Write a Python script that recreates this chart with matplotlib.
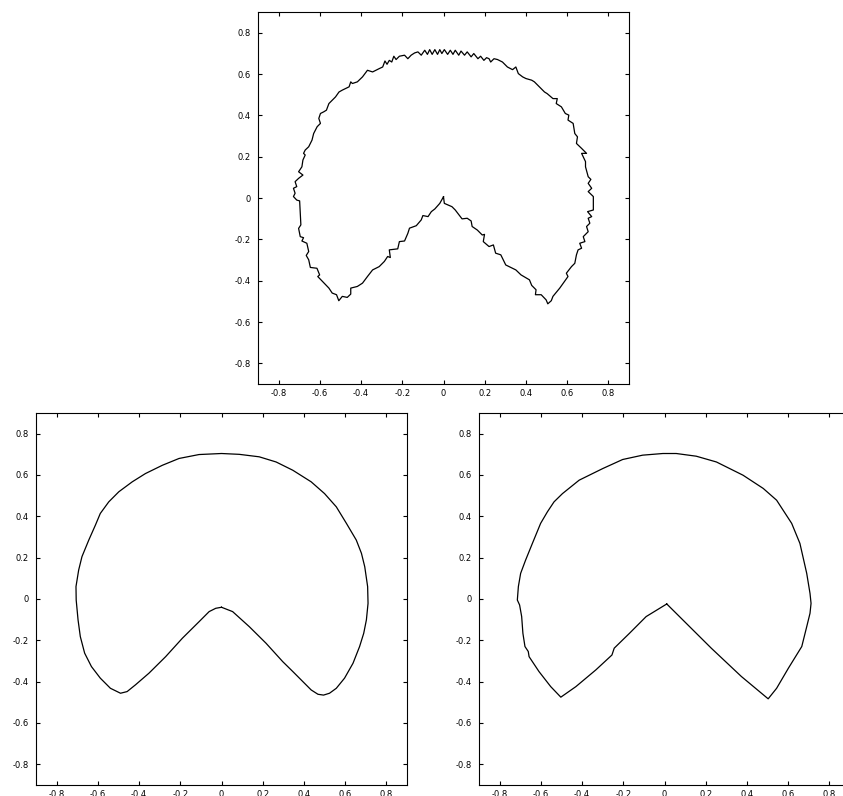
import matplotlib
matplotlib.use("Agg")
import matplotlib.pyplot as plt

plt.rcParams['font.family'] = ['DejaVu Sans']

ticks = [-0.8, -0.6, -0.4, -0.2, 0, 0.2, 0.4, 0.6, 0.8]
tick_labels = ['-0.8', '-0.6', '-0.4', '-0.2', '0', '0.2', '0.4', '0.6', '0.8']

# top panel: noisy boundary (apex -> right arm -> right side -> top -> left side -> left arm)
noisy_x = [
    0.000, 0.004, 0.041, 0.057, 0.090, 0.115, 0.134, 0.139, 0.164, 0.188, 0.199, 0.193,
    0.221, 0.242, 0.253, 0.278, 0.302, 0.351, 0.376, 0.417, 0.428, 0.449, 0.446, 0.474,
    0.498, 0.506,
    0.523, 0.531, 0.564, 0.604, 0.596, 0.621, 0.637, 0.645, 0.653, 0.670, 0.661, 0.686,
    0.678, 0.702, 0.694, 0.710, 0.702, 0.719, 0.699, 0.727, 0.727,
    0.702, 0.719, 0.702, 0.715, 0.702, 0.689, 0.689, 0.670, 0.694, 0.670, 0.645, 0.650,
    0.637, 0.629, 0.604, 0.608, 0.591, 0.572, 0.547, 0.552, 0.531, 0.503, 0.490, 0.449,
    0.441, 0.428, 0.400, 0.384, 0.363, 0.351, 0.335, 0.310, 0.286, 0.262, 0.245, 0.229,
    0.221, 0.209, 0.196, 0.180, 0.167, 0.147, 0.134, 0.115, 0.102, 0.085, 0.074, 0.057,
    0.046, 0.033, 0.020, 0.004, -0.008,
    -0.018, -0.029, -0.042, -0.055, -0.067, -0.078, -0.091, -0.108, -0.124, -0.140,
    -0.157, -0.173, -0.189, -0.214, -0.230, -0.241, -0.251, -0.263, -0.274, -0.284,
    -0.295, -0.312, -0.344, -0.369, -0.393, -0.418, -0.442, -0.450, -0.458, -0.475,
    -0.491, -0.507, -0.524, -0.540, -0.556, -0.568, -0.581, -0.597, -0.605, -0.597,
    -0.613, -0.630, -0.638, -0.654, -0.671, -0.679, -0.671, -0.682, -0.687, -0.703,
    -0.682, -0.703, -0.720, -0.712, -0.728, -0.720, -0.728,
    -0.712, -0.698, -0.692, -0.703, -0.695, -0.679, -0.687, -0.663, -0.654, -0.666,
    -0.654, -0.646, -0.614, -0.601, -0.610, -0.584, -0.556, -0.540, -0.519, -0.508,
    -0.491, -0.467, -0.450, -0.450, -0.418, -0.393, -0.369, -0.344, -0.312, -0.287,
    -0.271, -0.258, -0.263, -0.222, -0.214, -0.189, -0.173, -0.165, -0.132, -0.108,
    -0.100, -0.075, -0.059, -0.042, -0.018, 0.000,
]
noisy_y = [
    0.006, -0.026, -0.042, -0.058, -0.101, -0.098, -0.111, -0.138, -0.155, -0.179, -0.176, -0.211,
    -0.235, -0.227, -0.267, -0.275, -0.324, -0.348, -0.372, -0.396, -0.423, -0.444, -0.468, -0.468,
    -0.493, -0.512,
    -0.497, -0.476, -0.436, -0.380, -0.364, -0.332, -0.316, -0.275, -0.251, -0.243, -0.219, -0.211,
    -0.187, -0.163, -0.138, -0.122, -0.098, -0.090, -0.066, -0.058, 0.007,
    0.031, 0.047, 0.071, 0.090, 0.103, 0.151, 0.176, 0.216, 0.216, 0.240, 0.264, 0.296,
    0.312, 0.361, 0.377, 0.401, 0.409, 0.441, 0.457, 0.481, 0.481, 0.505, 0.513, 0.554,
    0.562, 0.570, 0.578, 0.586, 0.602, 0.634, 0.621, 0.634, 0.658, 0.670, 0.674, 0.658,
    0.674, 0.679, 0.666, 0.686, 0.674, 0.699, 0.683, 0.707, 0.691, 0.711, 0.691, 0.715,
    0.695, 0.715, 0.695, 0.718, 0.699,
    0.718, 0.695, 0.718, 0.695, 0.718, 0.695, 0.715, 0.691, 0.707, 0.702,
    0.691, 0.674, 0.691, 0.686, 0.670, 0.686, 0.658, 0.666, 0.647, 0.663,
    0.634, 0.626, 0.610, 0.618, 0.586, 0.562, 0.554, 0.562, 0.538, 0.530,
    0.522, 0.513, 0.489, 0.473, 0.457, 0.425, 0.417, 0.409, 0.385, 0.361,
    0.345, 0.312, 0.280, 0.248, 0.232, 0.216, 0.208, 0.184, 0.151, 0.127,
    0.111, 0.095, 0.079, 0.055, 0.047, 0.023, 0.007,
    -0.010, -0.014, -0.130, -0.147, -0.187, -0.192, -0.208, -0.219, -0.259, -0.278,
    -0.299, -0.336, -0.340, -0.372, -0.380, -0.407, -0.436, -0.460, -0.468, -0.497,
    -0.476, -0.481, -0.465, -0.436, -0.428, -0.412, -0.380, -0.348, -0.332, -0.307,
    -0.283, -0.288, -0.251, -0.246, -0.211, -0.208, -0.171, -0.146, -0.134, -0.106,
    -0.085, -0.090, -0.066, -0.053, -0.026, 0.006,
]

# bottom left: smoothed boundary
smooth_x = [
    0.000, 0.054, 0.135, 0.216, 0.297, 0.346, 0.394, 0.435, 0.468, 0.495, 0.524, 0.557,
    0.597, 0.638, 0.670, 0.690, 0.703, 0.711, 0.709, 0.695, 0.679, 0.654, 0.606, 0.557,
    0.500, 0.435, 0.346, 0.265, 0.183, 0.086, 0.000, -0.109, -0.206, -0.287, -0.369,
    -0.433, -0.498, -0.547, -0.588, -0.612, -0.644, -0.677, -0.693, -0.706, -0.705,
    -0.696, -0.685, -0.664, -0.631, -0.588, -0.539, -0.490, -0.458, -0.417, -0.352,
    -0.271, -0.190, -0.109, -0.060, -0.028, 0.000,
]
smooth_y = [
    -0.040, -0.061, -0.134, -0.214, -0.303, -0.351, -0.399, -0.440, -0.461, -0.465, -0.456,
    -0.432, -0.383, -0.311, -0.230, -0.166, -0.101, -0.021, 0.060, 0.156, 0.221, 0.285,
    0.366, 0.446, 0.510, 0.567, 0.623, 0.663, 0.688, 0.700, 0.704, 0.699, 0.680, 0.647,
    0.607, 0.567, 0.519, 0.470, 0.414, 0.357, 0.285, 0.205, 0.140, 0.060, -0.005, -0.101,
    -0.182, -0.262, -0.327, -0.383, -0.432, -0.456, -0.448, -0.415, -0.359, -0.279,
    -0.190, -0.110, -0.061, -0.045, -0.040,
]

# bottom right: sharp-cornered boundary
sharp_x = [
    0.011, 0.227, 0.373, 0.503, 0.544, 0.601, 0.666, 0.690, 0.706, 0.711, 0.706, 0.690,
    0.657, 0.617, 0.544, 0.479, 0.381, 0.252, 0.154, 0.057, -0.008, -0.106, -0.203,
    -0.300, -0.414, -0.495, -0.536, -0.568, -0.601, -0.641, -0.674, -0.698, -0.709,
    -0.714, -0.703, -0.693, -0.687, -0.677, -0.661, -0.657, -0.609, -0.552, -0.503,
    -0.430, -0.333, -0.255, -0.244, -0.170, -0.089, 0.011,
]
sharp_y = [
    -0.024, -0.238, -0.375, -0.483, -0.432, -0.335, -0.230, -0.134, -0.069, -0.021, 0.027,
    0.124, 0.269, 0.366, 0.478, 0.535, 0.599, 0.663, 0.691, 0.704, 0.704, 0.696, 0.675,
    0.631, 0.575, 0.510, 0.470, 0.422, 0.366, 0.269, 0.188, 0.124, 0.060, -0.005, -0.029,
    -0.085, -0.166, -0.230, -0.254, -0.279, -0.351, -0.424, -0.475, -0.424, -0.343,
    -0.271, -0.238, -0.166, -0.085, -0.024,
]

fig = plt.figure(figsize=(8.43, 7.96), dpi=100)

W, H = 843.0, 796.0
boxes = [
    (258, 384, noisy_x, noisy_y),
    (36, 785, smooth_x, smooth_y),
    (479, 785, sharp_x, sharp_y),
]

for left, bottom, xs, ys in boxes:
    ax = fig.add_axes([left / W, (H - bottom) / H, 371 / W, 372 / H])
    ax.plot(xs, ys, color='black', linewidth=0.9)
    ax.set_xlim(-0.9, 0.9)
    ax.set_ylim(-0.9, 0.9)
    ax.set_xticks(ticks)
    ax.set_xticklabels(tick_labels)
    ax.set_yticks(ticks)
    ax.set_yticklabels(tick_labels)
    ax.tick_params(direction='in', length=3, width=0.8, top=True, right=True,
                   labelsize=6)
    ax.tick_params(axis='x', pad=3.8)
    ax.tick_params(axis='y', pad=5)
    for s in ax.spines.values():
        s.set_linewidth(0.8)

fig.savefig('out.png', dpi=100)
